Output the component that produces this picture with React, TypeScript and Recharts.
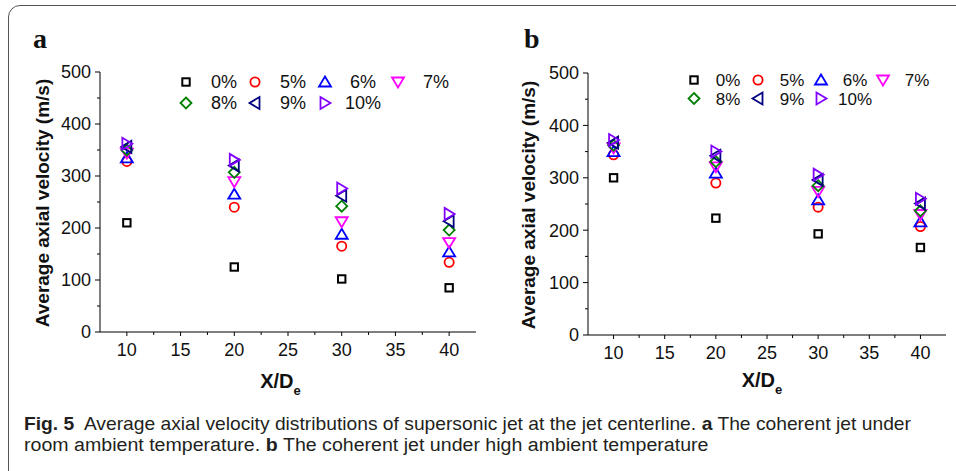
import React, { useLayoutEffect, useRef, useState } from "react";
import { ScatterChart, Scatter, XAxis, YAxis, Legend } from "recharts";

// axial stations (X/De)
const stations = [10, 20, 30, 40];
const seriesNames = ["0%", "5%", "6%", "7%", "8%", "9%", "10%"];
const markerKinds = ["square", "circle", "up", "down", "diamond", "left", "right"];
const markerColors = ["#000000", "#ff0000", "#0000ff", "#ff00ff", "#008000", "#000080", "#8000ff"];

// room ambient temperature (panel a), m/s
const room0 = [210, 125, 102, 85];
const room5 = [328, 240, 165, 134];
const room6 = [335, 265, 188, 154];
const room7 = [344, 289, 212, 172];
const room8 = [350, 307, 242, 196];
const room9 = [356, 320, 262, 213];
const room10 = [362, 331, 276, 227];

// high ambient temperature (panel b), m/s
const hot0 = [300, 223, 193, 167];
const hot5 = [344, 290, 244, 207];
const hot6 = [350, 309, 258, 216];
const hot7 = [357, 321, 274, 230];
const hot8 = [362, 331, 285, 237];
const hot9 = [367, 342, 296, 251];
const hot10 = [372, 350, 306, 260];

const xTicks = [10, 12.5, 15, 17.5, 20, 22.5, 25, 27.5, 30, 32.5, 35, 37.5, 40];
const yTicks = [0, 50, 100, 150, 200, 250, 300, 350, 400, 450, 500];

// caption runs: [text, bold]
const captionLine1: [string, boolean][] = [
  ["Fig. 5", true],
  ["  Average axial velocity distributions of supersonic jet at the jet centerline. ", false],
  ["a", true],
  [" The coherent jet under", false],
];
const captionLine2: [string, boolean][] = [
  ["room ambient temperature. ", false],
  ["b", true],
  [" The coherent jet under high ambient temperature", false],
];

const SANS = "'Liberation Sans', Arial, sans-serif";

function Marker({ kind, cx, cy, color }: { kind: string; cx: number; cy: number; color: string }) {
  const common = { fill: "none", stroke: color, strokeWidth: 1.8 };
  let pts = "";
  switch (kind) {
    case "square":
      return <rect x={cx - 3.7} y={cy - 3.7} width={7.4} height={7.4} {...common} strokeWidth={2} />;
    case "circle":
      return <circle cx={cx} cy={cy} r={4.6} {...common} />;
    case "up":
      pts = `${cx},${cy - 5.5} ${cx + 6},${cy + 4.5} ${cx - 6},${cy + 4.5}`;
      break;
    case "down":
      pts = `${cx - 6},${cy - 4.5} ${cx + 6},${cy - 4.5} ${cx},${cy + 5.5}`;
      break;
    case "diamond":
      pts = `${cx},${cy - 5.5} ${cx + 5.5},${cy} ${cx},${cy + 5.5} ${cx - 5.5},${cy}`;
      break;
    case "left":
      pts = `${cx - 5.5},${cy} ${cx + 4.5},${cy - 6} ${cx + 4.5},${cy + 6}`;
      break;
    default:
      pts = `${cx + 5.5},${cy} ${cx - 4.5},${cy - 6} ${cx - 4.5},${cy + 6}`;
  }
  return <polygon points={pts} {...common} strokeLinejoin="miter" />;
}

function YTick(props: any) {
  const { x, y, payload } = props;
  const major = payload.value % 100 === 0;
  return (
    <g>
      <line x1={x - (major ? 5 : 3)} x2={x} y1={y} y2={y} stroke="#000" />
      {major && (
        <text x={x - 9} y={y} dy="0.36em" textAnchor="end" fontSize={18} fontFamily={SANS} fill="#111">
          {payload.value}
        </text>
      )}
    </g>
  );
}

function XTick(props: any) {
  const { x, y, payload } = props;
  const major = payload.value % 5 === 0;
  return (
    <g>
      <line x1={x} x2={x} y1={y} y2={y + (major ? 4 : 3)} stroke="#000" />
      {major && (
        <text x={x} y={y + 24} textAnchor="middle" fontSize={18} fontFamily={SANS} fill="#111">
          {payload.value}
        </text>
      )}
    </g>
  );
}

function SeriesKey({ cols, rows, labelDx, fontSize }: { cols: number[]; rows: number[]; labelDx: number; fontSize: number }) {
  return (
    <svg width={280} height={50} style={{ display: "block", overflow: "visible" }}>
      {seriesNames.map((name, i) => {
        const cx = cols[i % 4];
        const cy = rows[Math.floor(i / 4)];
        return (
          <g key={name}>
            <Marker kind={markerKinds[i]} cx={cx} cy={cy} color={markerColors[i]} />
            <text x={cx + labelDx} y={cy} dy="0.36em" textAnchor="middle" fontSize={fontSize} fontFamily={SANS} fill="#111">
              {name}
            </text>
          </g>
        );
      })}
    </svg>
  );
}

type PanelProps = {
  left: number;
  series: number[][];
  margin: { top: number; right: number; bottom: number; left: number };
  yTitleDx: number;
  xTitleDx: number;
  xTitleDy: number;
  legendPos: { left: number; top: number };
  legendCols: number[];
  legendRows: number[];
  legendDx: number;
  legendFont: number;
};

function Panel(p: PanelProps) {
  return (
    <div style={{ position: "absolute", left: p.left, top: 0 }}>
      <ScatterChart width={478} height={400} margin={p.margin}>
        <XAxis
          type="number"
          dataKey="x"
          domain={[7.5, 42.5]}
          ticks={xTicks}
          interval={0}
          tickSize={0}
          tickMargin={0}
          tick={<XTick />}
          axisLine={{ stroke: "#000" }}
          height={30}
          label={(lp: any) => {
            const vb = lp.viewBox;
            return (
              <text
                x={vb.x + vb.width / 2 + p.xTitleDx}
                y={vb.y + p.xTitleDy}
                textAnchor="middle"
                fontFamily={SANS}
                fontWeight="bold"
                fontSize={20}
                fill="#111"
              >
                X/D
                <tspan fontSize={13} dy={7}>e</tspan>
              </text>
            );
          }}
        />
        <YAxis
          type="number"
          dataKey="y"
          domain={[0, 500]}
          ticks={yTicks}
          interval={0}
          tickSize={0}
          tickMargin={0}
          tick={<YTick />}
          axisLine={{ stroke: "#000" }}
          width={60}
          label={(lp: any) => {
            const vb = lp.viewBox;
            const cx = vb.x + p.yTitleDx;
            const cy = vb.y + vb.height / 2 + 1;
            return (
              <text
                x={cx}
                y={cy}
                transform={`rotate(-90, ${cx}, ${cy})`}
                textAnchor="middle"
                dominantBaseline="central"
                fontFamily={SANS}
                fontWeight="bold"
                fontSize={19}
                fill="#111"
              >
                Average axial velocity (m/s)
              </text>
            );
          }}
        />
        <Legend
          verticalAlign="middle"
          align="center"
          layout="horizontal"
          wrapperStyle={{ left: p.legendPos.left, top: p.legendPos.top, width: 280, height: 50 }}
          content={() => (
            <SeriesKey cols={p.legendCols} rows={p.legendRows} labelDx={p.legendDx} fontSize={p.legendFont} />
          )}
        />
        {p.series.map((vals, i) => (
          <Scatter
            key={seriesNames[i]}
            name={seriesNames[i]}
            data={stations.map((x, k) => ({ x, y: vals[k] }))}
            isAnimationActive={false}
            shape={(sp: any) => <Marker kind={markerKinds[i]} cx={sp.cx} cy={sp.cy} color={markerColors[i]} />}
          />
        ))}
      </ScatterChart>
    </div>
  );
}

// one caption line: runs laid end to end, then squeezed to a fixed width
function CaptionLine({ x, y, width, runs }: { x: number; y: number; width: number; runs: [string, boolean][] }) {
  const refs = useRef<(SVGTextElement | null)[]>([]);
  const [layout, setLayout] = useState<{ offsets: number[]; sx: number }>({
    offsets: runs.map(() => 0),
    sx: 1,
  });
  useLayoutEffect(() => {
    const widths = runs.map((_, i) => refs.current[i]?.getComputedTextLength() ?? 0);
    const offsets: number[] = [];
    let acc = 0;
    widths.forEach((w) => {
      offsets.push(acc);
      acc += w;
    });
    if (acc > 0) setLayout({ offsets, sx: width / acc });
  }, [width, runs]);
  return (
    <g transform={`translate(${x}, ${y}) scale(${layout.sx}, 1)`}>
      {runs.map(([txt, bold], i) => (
        <text
          key={i}
          ref={(el) => {
            refs.current[i] = el;
          }}
          x={layout.offsets[i]}
          y={0}
          fontWeight={bold ? "bold" : "normal"}
          style={{ whiteSpace: "pre" }}
        >
          {txt}
        </text>
      ))}
    </g>
  );
}

export default function App() {
  return (
    <div
      style={{
        position: "absolute",
        left: 0,
        top: 0,
        width: 956,
        height: 471,
        overflow: "hidden",
        background: "#fff",
      }}
    >
      <div
        style={{
          position: "absolute",
          left: 8,
          top: 5,
          width: 1100,
          height: 600,
          border: "1.5px solid #555",
          borderRadius: 12,
        }}
      />
      <Panel
        left={0}
        series={[room0, room5, room6, room7, room8, room9, room10]}
        margin={{ top: 72, right: 2, bottom: 38, left: 40 }}
        yTitleDx={2.5}
        xTitleDx={-7.5}
        xTitleDy={56}
        legendPos={{ left: 170, top: 65 }}
        legendCols={[16, 85, 155, 228]}
        legendRows={[17, 38]}
        legendDx={38}
        legendFont={18}
      />
      <Panel
        left={478}
        series={[hot0, hot5, hot6, hot7, hot8, hot9, hot10]}
        margin={{ top: 73, right: 10, bottom: 35, left: 50 }}
        yTitleDx={0.5}
        xTitleDx={-5}
        xTitleDy={52}
        legendPos={{ left: 200, top: 65 }}
        legendCols={[16, 80, 143, 205]}
        legendRows={[15, 33.5]}
        legendDx={34}
        legendFont={17}
      />
      <svg
        width={956}
        height={471}
        style={{ position: "absolute", left: 0, top: 0, pointerEvents: "none" }}
      >
        <text x={33} y={48} fontFamily="'Liberation Serif', 'Times New Roman', serif" fontWeight="bold" fontSize={28} fill="#111">
          a
        </text>
        <text x={524} y={48} fontFamily="'Liberation Serif', 'Times New Roman', serif" fontWeight="bold" fontSize={28} fill="#111">
          b
        </text>
        <g fontFamily={SANS} fontSize={18} fill="#231f20">
          <CaptionLine x={24} y={429.5} width={887} runs={captionLine1} />
          <CaptionLine x={24} y={450.5} width={685} runs={captionLine2} />
        </g>
      </svg>
    </div>
  );
}
